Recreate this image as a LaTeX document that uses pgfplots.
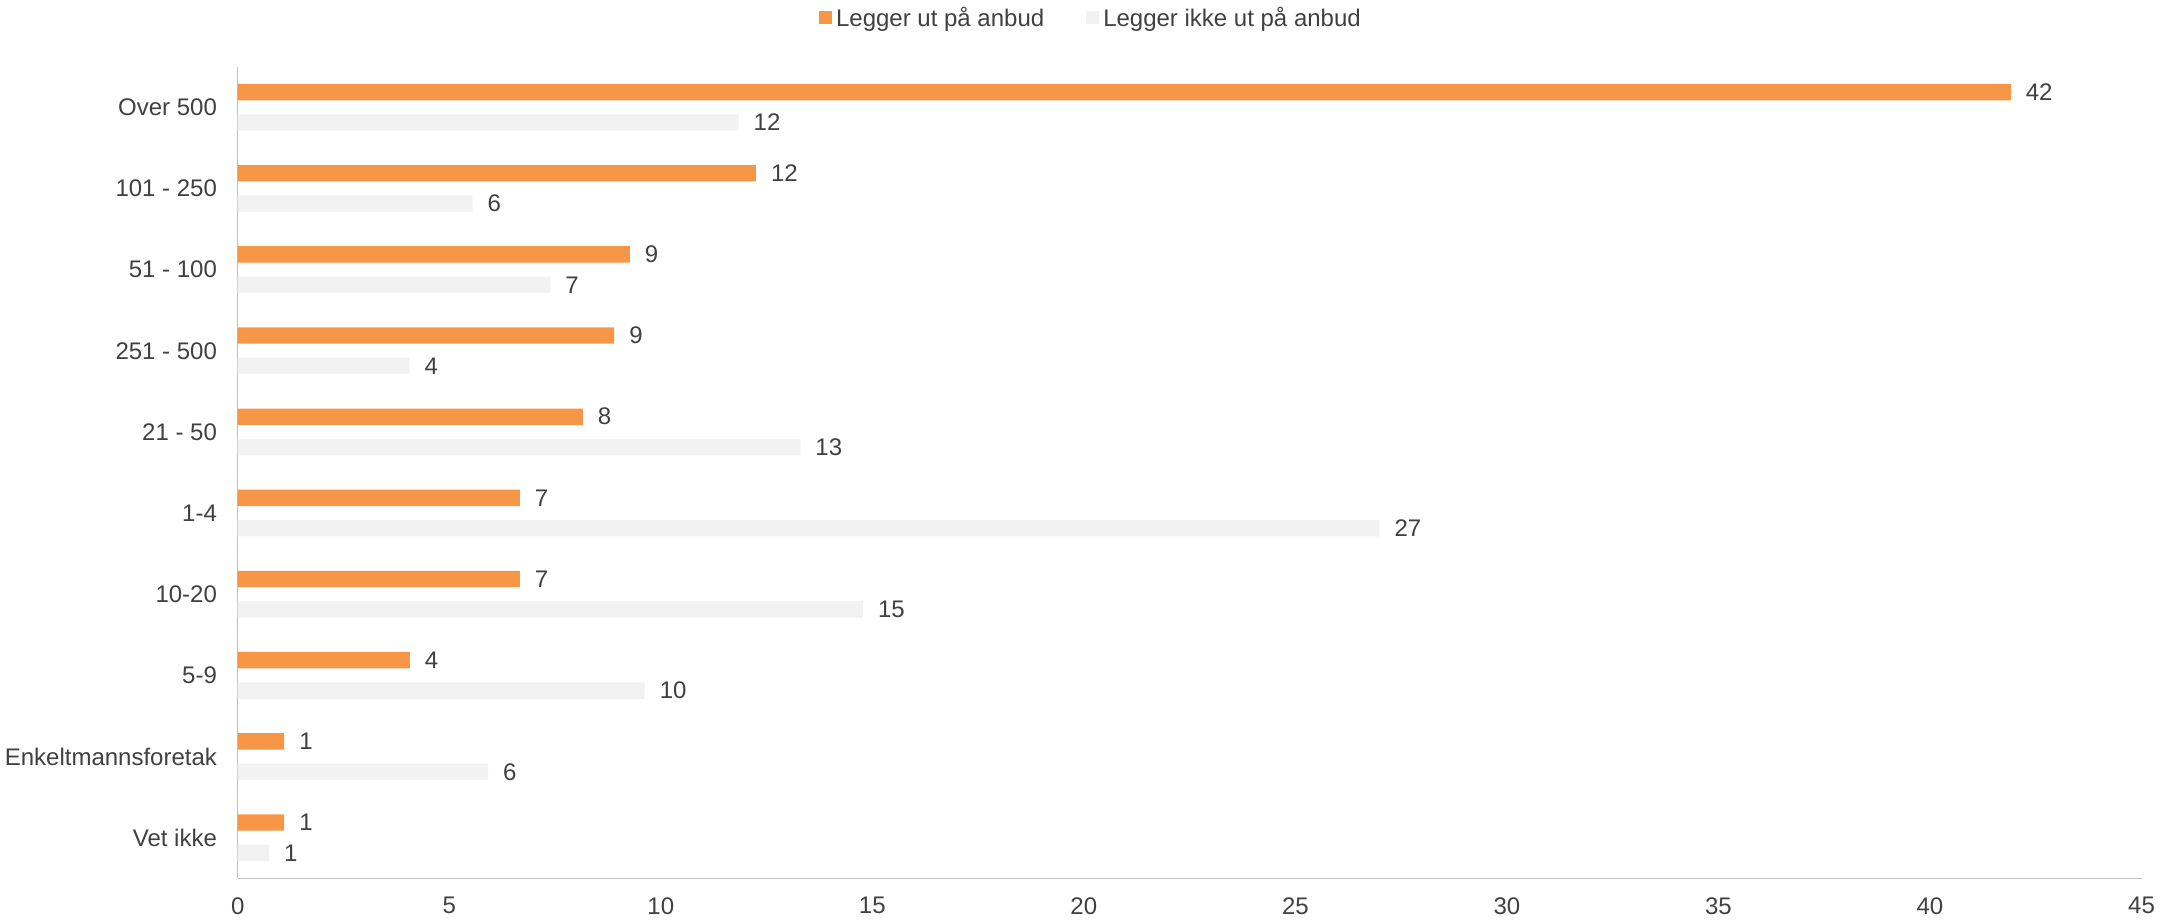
\documentclass[border=0pt]{standalone}
\usepackage{fontspec}
\setmainfont{Liberation Sans}
\usepackage{pgfplots}
\pgfplotsset{compat=1.18}
\definecolor{orangebar}{HTML}{F79646}
\definecolor{graybar}{HTML}{F2F2F2}
\definecolor{txt}{HTML}{404040}
\definecolor{axisline}{HTML}{BFBFBF}
\begin{document}
\begin{tikzpicture}
\begin{axis}[
  scale only axis, width=951.9pt, height=405.8pt,
  xbar, bar width=8.2pt,
  xmin=0, xmax=45, ymin=-0.5, ymax=9.5,
  xtick={0,5,...,45}, ytick={0,...,9},
  yticklabels={Vet ikke, Enkeltmannsforetak, 5-9, 10-20, 1-4, 21 - 50, 251 - 500, 51 - 100, 101 - 250, Over 500},
  axis x line*=bottom, axis y line*=left,
  axis line style={draw=axisline, line width=0.8pt},
  major tick length=0pt,
  tick style={draw=none},
  ticklabel style={text=txt, font=\fontsize{12}{14}\selectfont},
  xticklabel style={yshift=-6pt},
  yticklabel style={xshift=-6.85pt},
  /pgf/number format/assume math mode=true,
  nodes near coords, point meta=explicit symbolic,
  every node near coord/.append style={anchor=west, text=txt, font=\fontsize{12}{14}\selectfont, xshift=4pt},
  legend style={at={(0.4487,1.060)}, anchor=center, draw=none, fill=none,
    legend columns=-1, /tikz/every even column/.append style={column sep=19pt},
    font=\fontsize{12}{14}\selectfont, text=txt},
  legend image code/.code={\fill[#1] (0pt,-3.25pt) rectangle (6.5pt,3.25pt);},
  clip=false,
]
\addplot[fill=orangebar, draw=none, bar shift=7.6pt] coordinates {
  (41.91,9) [42]
  (12.25,8) [12]
  (9.27,7) [9]
  (8.90,6) [9]
  (8.16,5) [8]
  (6.67,4) [7]
  (6.67,3) [7]
  (4.07,2) [4]
  (1.10,1) [1]
  (1.10,0) [1]
};
\addplot[fill=graybar, draw=none, bar shift=-7.6pt] coordinates {
  (11.84,9) [12]
  (5.55,8) [6]
  (7.39,7) [7]
  (4.06,6) [4]
  (13.30,5) [13]
  (26.99,4) [27]
  (14.78,3) [15]
  (9.62,2) [10]
  (5.92,1) [6]
  (0.74,0) [1]
};
\legend{Legger ut på anbud, Legger ikke ut på anbud}
\end{axis}
\pgfresetboundingbox
\path (-118.85pt,-22.35pt) rectangle (963.65pt,439.15pt);
\end{tikzpicture}
\end{document}
